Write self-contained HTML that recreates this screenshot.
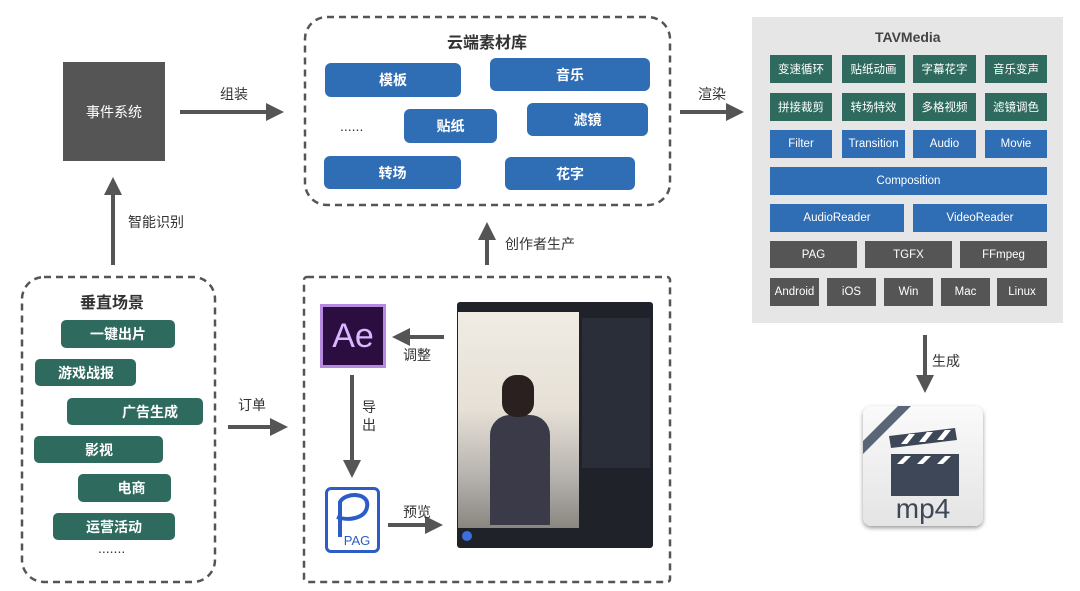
<!DOCTYPE html>
<html><head><meta charset="utf-8"><style>
body{margin:0;width:1080px;height:591px;background:#fff;position:relative;overflow:hidden;font-family:"Liberation Sans","Noto Sans CJK SC",sans-serif;}
.a{position:absolute;box-sizing:border-box;}
.c{display:flex;align-items:center;justify-content:center;color:#fff;font-size:13px;}
.b{background:#2f6db5;border-radius:6px;font-weight:bold;font-size:14px;}
.g{background:#2e6b5e;border-radius:5px;font-weight:bold;font-size:14px;}
.tg{background:#2e6b5e;font-size:11.5px;}
.tb{background:#2f6db5;font-size:11.5px;}
.td{background:#555;font-size:11.5px;}
.lbl{position:absolute;font-size:14px;color:#333;}
</style></head><body>
<svg class="a" style="left:0;top:0" width="1080" height="591">
<defs><marker id="ah" markerWidth="4.5" markerHeight="4.5" refX="2.5" refY="2.25" orient="auto"><path d="M0,0 L4.5,2.25 L0,4.5Z" fill="#555"/></marker></defs>
<g fill="none" stroke="#555" stroke-width="2.5" stroke-dasharray="7,5">
<rect x="305" y="17" width="365" height="188" rx="22"/>
<rect x="22" y="277" width="193" height="305" rx="22"/>
<rect x="304" y="277" width="366" height="305" rx="3"/>
</g>
<g stroke="#555" stroke-width="4" marker-end="url(#ah)">
<line x1="180" y1="112" x2="276" y2="112"/>
<line x1="680" y1="112" x2="736" y2="112"/>
<line x1="925" y1="335" x2="925" y2="385"/>
<line x1="113" y1="265" x2="113" y2="185"/>
<line x1="228" y1="427" x2="280" y2="427"/>
<line x1="487" y1="265" x2="487" y2="230"/>
<line x1="444" y1="337" x2="400" y2="337"/>
<line x1="352" y1="375" x2="352" y2="470"/>
<line x1="388" y1="525" x2="435" y2="525"/>
</g>
</svg>
<div class="a c" style="left:63px;top:62px;width:102px;height:99px;background:#555;font-size:14px;">事件系统</div>
<div class="lbl" style="left:220px;top:84px">组装</div>
<div class="lbl" style="left:698px;top:84px">渲染</div>
<div class="lbl" style="left:128px;top:212px">智能识别</div>
<div class="lbl" style="left:238px;top:395px">订单</div>
<div class="lbl" style="left:505px;top:234px">创作者生产</div>
<div class="lbl" style="left:932px;top:351px">生成</div>
<div class="lbl" style="left:403px;top:345px">调整</div>
<div class="lbl" style="left:362px;top:398px;width:16px;line-height:18px">导出</div>
<div class="lbl" style="left:403px;top:502px">预览</div>
<div class="lbl" style="left:447px;top:29px;font-size:16px;font-weight:bold">云端素材库</div>
<div class="a c b" style="left:325px;top:63px;width:136px;height:34px">模板</div>
<div class="a c b" style="left:490px;top:58px;width:160px;height:33px">音乐</div>
<div class="a c b" style="left:404px;top:109px;width:93px;height:34px">贴纸</div>
<div class="a c b" style="left:527px;top:103px;width:121px;height:33px">滤镜</div>
<div class="a c b" style="left:324px;top:156px;width:137px;height:33px">转场</div>
<div class="a c b" style="left:505px;top:157px;width:130px;height:33px">花字</div>
<div class="lbl" style="left:340px;top:118px">......</div>
<div class="lbl" style="left:80px;top:289px;font-size:16px;font-weight:bold">垂直场景</div>
<div class="a c g" style="left:61px;top:320px;width:114px;height:28px">一键出片</div>
<div class="a c g" style="left:35px;top:359px;width:101px;height:27px;justify-content:flex-start;padding-left:23px">游戏战报</div>
<div class="a c g" style="left:67px;top:398px;width:136px;height:27px;padding-left:30px">广告生成</div>
<div class="a c g" style="left:34px;top:436px;width:129px;height:27px;justify-content:flex-start;padding-left:51px">影视</div>
<div class="a c g" style="left:78px;top:474px;width:93px;height:28px;padding-left:14px">电商</div>
<div class="a c g" style="left:53px;top:513px;width:122px;height:27px">运营活动</div>
<div class="lbl" style="left:98px;top:540px">.......</div>
<div class="a" style="left:752px;top:17px;width:311px;height:306px;background:#e6e6e6"></div>
<div class="lbl" style="left:875px;top:29px;font-weight:bold;color:#444">TAVMedia</div>
<div class="a c tg" style="left:770px;top:55px;width:62px;height:28px">变速循环</div>
<div class="a c tg" style="left:842px;top:55px;width:63px;height:28px">贴纸动画</div>
<div class="a c tg" style="left:913px;top:55px;width:63px;height:28px">字幕花字</div>
<div class="a c tg" style="left:985px;top:55px;width:62px;height:28px">音乐变声</div>
<div class="a c tg" style="left:770px;top:93px;width:62px;height:28px">拼接裁剪</div>
<div class="a c tg" style="left:842px;top:93px;width:63px;height:28px">转场特效</div>
<div class="a c tg" style="left:913px;top:93px;width:63px;height:28px">多格视频</div>
<div class="a c tg" style="left:985px;top:93px;width:62px;height:28px">滤镜调色</div>
<div class="a c tb" style="left:770px;top:130px;width:62px;height:28px">Filter</div>
<div class="a c tb" style="left:842px;top:130px;width:63px;height:28px">Transition</div>
<div class="a c tb" style="left:913px;top:130px;width:63px;height:28px">Audio</div>
<div class="a c tb" style="left:985px;top:130px;width:62px;height:28px">Movie</div>
<div class="a c tb" style="left:770px;top:167px;width:277px;height:28px">Composition</div>
<div class="a c tb" style="left:770px;top:204px;width:134px;height:28px">AudioReader</div>
<div class="a c tb" style="left:913px;top:204px;width:134px;height:28px">VideoReader</div>
<div class="a c td" style="left:770px;top:241px;width:87px;height:27px">PAG</div>
<div class="a c td" style="left:865px;top:241px;width:87px;height:27px">TGFX</div>
<div class="a c td" style="left:960px;top:241px;width:87px;height:27px">FFmpeg</div>
<div class="a c td" style="left:770px;top:278px;width:49px;height:28px">Android</div>
<div class="a c td" style="left:827px;top:278px;width:49px;height:28px">iOS</div>
<div class="a c td" style="left:884px;top:278px;width:49px;height:28px">Win</div>
<div class="a c td" style="left:941px;top:278px;width:49px;height:28px">Mac</div>
<div class="a c td" style="left:997px;top:278px;width:50px;height:28px">Linux</div>
<div class="a" style="left:863px;top:406px;width:120px;height:120px;border-radius:8px;background:linear-gradient(#fafafa,#e4e4e4);box-shadow:0 2px 4px #999"></div>
<svg class="a" style="left:863px;top:406px" width="120" height="120">
<path d="M0,35 L35,0 L48,0 L0,48Z" fill="#5a6577"/>
<rect x="28" y="48" width="68" height="42" fill="#3d4758"/>
<path d="M26,30 L92,22 L94,34 L28,42Z" fill="#3d4758"/>
<g fill="#fff"><path d="M38,38 L46,28 L52,28 L44,38Z"/><path d="M56,36 L64,26 L70,26 L62,36Z"/><path d="M74,34 L82,24 L88,24 L80,34Z"/>
<path d="M34,58 L42,50 L48,50 L40,58Z"/><path d="M54,58 L62,50 L68,50 L60,58Z"/><path d="M74,58 L82,50 L88,50 L80,58Z"/></g>
<text x="60" y="112" text-anchor="middle" font-size="28" fill="#3d4758" font-family="Liberation Sans">mp4</text>
</svg>
<div class="a c" style="left:320px;top:304px;width:66px;height:64px;background:#2b0e3f;border:3px solid #b58ae0;color:#d9b8ff;font-size:34px">Ae</div>
<div class="a" style="left:325px;top:487px;width:55px;height:66px;border:3px solid #2c5cc5;border-radius:6px;background:#fff"></div>
<svg class="a" style="left:325px;top:487px" width="55" height="66"><path d="M15,50 L15,15 C20,5 45,5 42,20 C40,32 22,34 12,30" fill="none" stroke="#2c5cc5" stroke-width="4"/><text x="32" y="58" text-anchor="middle" font-size="13" fill="#2c5cc5" font-family="Liberation Sans">PAG</text></svg>
<div class="a" style="left:457px;top:302px;width:196px;height:246px;background:#1f2229;border-radius:3px"></div>
<div class="a" style="left:458px;top:312px;width:121px;height:216px;background:linear-gradient(#f0ece4 0%,#e6e0d6 45%,#b8b4b0 75%,#8a8680 100%)"></div>
<div class="a" style="left:490px;top:415px;width:60px;height:110px;background:#3a3a48;border-radius:20px 20px 0 0"></div>
<div class="a" style="left:502px;top:375px;width:32px;height:42px;background:#2a2020;border-radius:14px"></div>
<div class="a" style="left:582px;top:318px;width:68px;height:150px;background:#2a2e38"></div>
<div class="a" style="left:458px;top:528px;width:121px;height:18px;background:#1f2229"></div>
<div class="a" style="left:462px;top:531px;width:10px;height:10px;border-radius:50%;background:#3b6fe0"></div>
</body></html>
